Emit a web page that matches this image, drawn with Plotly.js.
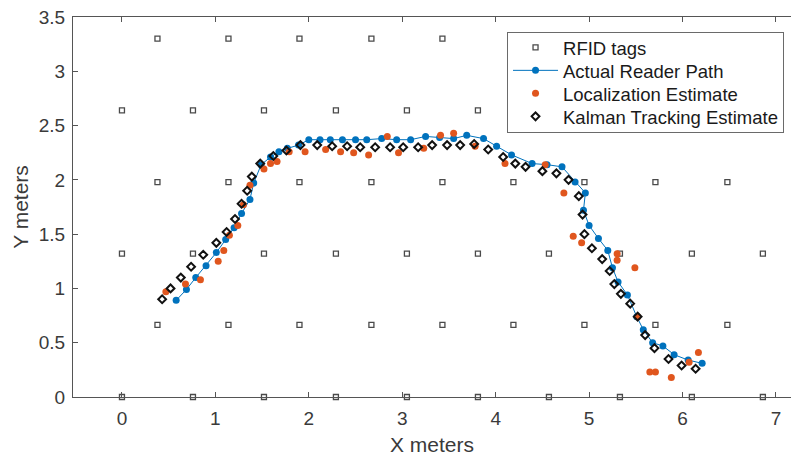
<!DOCTYPE html>
<html>
<head>
<meta charset="utf-8">
<script src="https://cdn.plot.ly/plotly-3.0.1.min.js"></script>
<style>
  html, body { margin: 0; padding: 0; background: #ffffff; }
  #chart { width: 791px; height: 456px; }
</style>
</head>
<body>
<div id="chart"></div>
<script>
// RFID tag grid (metres)
const tagX = [
  0.00, 0.76, 1.52, 2.29, 3.05, 3.81, 4.57, 5.33, 6.10, 6.86,
  0.38, 1.14, 1.90, 2.67, 3.43, 4.19, 4.95, 5.71, 6.48,
  0.00, 0.76, 1.52, 2.29, 3.05, 3.81, 4.57, 5.33, 6.10, 6.86,
  0.38, 1.14, 1.90, 2.67, 3.43, 4.19, 4.95, 5.71, 6.48,
  0.00, 0.76, 1.52, 2.29, 3.05, 3.81, 4.57, 5.33, 6.10, 6.86,
  0.38, 1.14, 1.90, 2.67, 3.43, 4.19, 4.95, 5.71, 6.48
];
const tagY = [
  0.00, 0.00, 0.00, 0.00, 0.00, 0.00, 0.00, 0.00, 0.00, 0.00,
  0.665, 0.665, 0.665, 0.665, 0.665, 0.665, 0.665, 0.665, 0.665,
  1.32, 1.32, 1.32, 1.32, 1.32, 1.32, 1.32, 1.32, 1.32, 1.32,
  1.98, 1.98, 1.98, 1.98, 1.98, 1.98, 1.98, 1.98, 1.98,
  2.64, 2.64, 2.64, 2.64, 2.64, 2.64, 2.64, 2.64, 2.64, 2.64,
  3.30, 3.30, 3.30, 3.30, 3.30, 3.30, 3.30, 3.30, 3.30
];

// Actual reader path
const pathX = [0.58, 0.69, 0.79, 0.90, 1.01, 1.11, 1.20, 1.28, 1.37, 1.41, 1.49, 1.59, 1.68, 1.77, 1.89,
  2.00, 2.12, 2.23, 2.36, 2.50, 2.62, 2.78, 2.94, 3.09, 3.25, 3.40, 3.55, 3.69, 3.87, 4.01, 4.17,
  4.39, 4.55, 4.71, 4.85, 4.96, 4.94, 5.00, 5.10, 5.20, 5.25, 5.31, 5.41, 5.51, 5.58, 5.68, 5.79,
  5.91, 6.06, 6.21];
const pathY = [0.89, 0.99, 1.10, 1.21, 1.33, 1.45, 1.56, 1.69, 1.82, 1.97, 2.14, 2.21, 2.26, 2.29, 2.32,
  2.37, 2.37, 2.37, 2.37, 2.37, 2.37, 2.38, 2.37, 2.37, 2.40, 2.39, 2.38, 2.41, 2.38, 2.31, 2.23,
  2.15, 2.14, 2.12, 1.98, 1.88, 1.72, 1.58, 1.46, 1.35, 1.19, 1.06, 0.94, 0.74, 0.62, 0.50, 0.47,
  0.39, 0.34, 0.31];

// Localization estimate
const locX = [0.47, 0.68, 0.84, 1.03, 1.09, 1.15, 1.24, 1.30, 1.37, 1.52, 1.59, 1.66, 1.79, 1.96,
  2.18, 2.34, 2.48, 2.64, 2.84, 2.96, 3.23, 3.41, 3.55, 3.78, 4.10, 4.53, 4.73, 4.83, 4.92,
  5.30, 5.30, 5.49, 5.52, 5.65, 5.71, 5.88, 6.07, 6.17];
const locY = [0.97, 1.04, 1.08, 1.25, 1.35, 1.49, 1.58, 1.77, 1.95, 2.10, 2.15, 2.17, 2.26, 2.26,
  2.28, 2.26, 2.25, 2.23, 2.40, 2.25, 2.29, 2.41, 2.43, 2.31, 2.15, 2.14, 1.88, 1.48, 1.42,
  1.32, 1.26, 1.19, 0.74, 0.23, 0.23, 0.18, 0.32, 0.41];

// Kalman tracking estimate
const kalX = [0.43, 0.52, 0.63, 0.74, 0.87, 1.01, 1.12, 1.21, 1.28, 1.34, 1.39, 1.48, 1.62, 1.76,
  1.91, 2.09, 2.25, 2.41, 2.55, 2.71, 2.87, 3.01, 3.17, 3.32, 3.48, 3.62, 3.77, 3.92, 4.08,
  4.21, 4.32, 4.50, 4.65, 4.78, 4.89, 4.93, 4.95, 5.03, 5.14, 5.22, 5.27, 5.34, 5.44, 5.52,
  5.60, 5.70, 5.85, 5.99, 6.14];
const kalY = [0.90, 1.00, 1.10, 1.20, 1.31, 1.42, 1.52, 1.64, 1.78, 1.90, 2.03, 2.15, 2.22, 2.27,
  2.32, 2.32, 2.31, 2.31, 2.30, 2.30, 2.30, 2.30, 2.30, 2.32, 2.32, 2.32, 2.33, 2.28, 2.21,
  2.15, 2.12, 2.08, 2.06, 2.00, 1.85, 1.68, 1.50, 1.37, 1.27, 1.16, 1.04, 0.95, 0.86, 0.74,
  0.57, 0.45, 0.35, 0.29, 0.26];

const xTicks = [0, 1, 2, 3, 4, 5, 6, 7];
const yTicks = [0, 0.5, 1, 1.5, 2, 2.5, 3, 3.5];
const yTickText = ['0', '0.5', '1', '1.5', '2', '2.5', '3', '3.5'];

const FONT = 'Liberation Sans, Arial, Helvetica, sans-serif';
const AXIS = '#555555';
const TEXT = '#3a3a3a';
const LEGEND_ROW = 23;   // vertical pitch of legend entries, px
const LEGEND_LIFT = 4;   // move the entries up inside the frame, px

const traces = [
  {
    name: 'RFID tags', x: tagX, y: tagY, type: 'scatter', mode: 'markers',
    cliponaxis: false,
    marker: { symbol: 'square-open', size: 5, color: '#4a4a4a', line: { width: 1.3, color: '#4a4a4a' } }
  },
  {
    name: 'Actual Reader Path', x: pathX, y: pathY, type: 'scatter', mode: 'lines+markers',
    line: { color: '#0072BD', width: 1 },
    marker: { symbol: 'circle', size: 7, color: '#0072BD' }
  },
  {
    name: 'Localization Estimate', x: locX, y: locY, type: 'scatter', mode: 'markers',
    marker: { symbol: 'circle', size: 7, color: '#E0561E' }
  },
  {
    name: 'Kalman Tracking Estimate', x: kalX, y: kalY, type: 'scatter', mode: 'markers',
    marker: { symbol: 'diamond-open', size: 6, color: '#111111', line: { width: 2, color: '#111111' } }
  }
];

const layout = {
  width: 791, height: 456,
  margin: { l: 73, r: 0, t: 17, b: 59 },
  paper_bgcolor: '#ffffff', plot_bgcolor: '#ffffff',
  font: { family: FONT, size: 19, color: TEXT },
  showlegend: true,
  legend: {
    x: 0.6045, y: 0.961, xanchor: 'left', yanchor: 'top',
    bgcolor: '#ffffff', bordercolor: '#6a6a6a', borderwidth: 1,
    font: { family: FONT, size: 18.5, color: '#1a1a1a' },
    tracegroupgap: 0, itemwidth: 45
  },
  xaxis: {
    range: [-0.524, 7.161], tickvals: xTicks, ticktext: xTicks.map(String),
    ticks: 'inside', ticklen: 5, tickwidth: 1, tickcolor: AXIS,
    showline: true, linecolor: AXIS, linewidth: 1, mirror: 'ticks',
    showgrid: false, zeroline: false, ticklabelstandoff: 4,
    tickfont: { family: FONT, size: 19, color: TEXT },
    title: { text: 'X meters', font: { family: FONT, size: 21, color: TEXT }, standoff: 12 }
  },
  yaxis: {
    range: [0, 3.5], tickvals: yTicks, ticktext: yTickText,
    ticks: 'inside', ticklen: 5, tickwidth: 1, tickcolor: AXIS,
    showline: true, linecolor: AXIS, linewidth: 1,
    showgrid: false, zeroline: false, ticklabelstandoff: 3,
    tickfont: { family: FONT, size: 19, color: TEXT },
    title: { text: 'Y meters', font: { family: FONT, size: 21, color: TEXT }, standoff: 4 }
  }
};

Plotly.newPlot('chart', traces, layout, { staticPlot: true, displayModeBar: false }).then(function (gd) {
  // tighten the legend rows to a fixed pitch and shrink its frame to fit
  const items = gd.querySelectorAll('.legend .traces');
  if (items.length < 2) return;
  const parse = el => {
    const m = /translate\(\s*([-\d.]+)[ ,]+([-\d.]+)\s*\)/.exec(el.getAttribute('transform') || '');
    return m ? [parseFloat(m[1]), parseFloat(m[2])] : [0, 0];
  };
  const first = parse(items[0]);
  const pitch = parse(items[1])[1] - first[1];
  items.forEach((g, i) => {
    const p = parse(g);
    g.setAttribute('transform', 'translate(' + p[0] + ',' + (first[1] - LEGEND_LIFT + i * LEGEND_ROW) + ')');
  });
  const shrink = (pitch - LEGEND_ROW) * (items.length - 1) + 2 * LEGEND_LIFT;
  const bg = gd.querySelector('.legend .bg');
  if (bg) bg.setAttribute('height', parseFloat(bg.getAttribute('height')) - shrink);
});
</script>
</body>
</html>
